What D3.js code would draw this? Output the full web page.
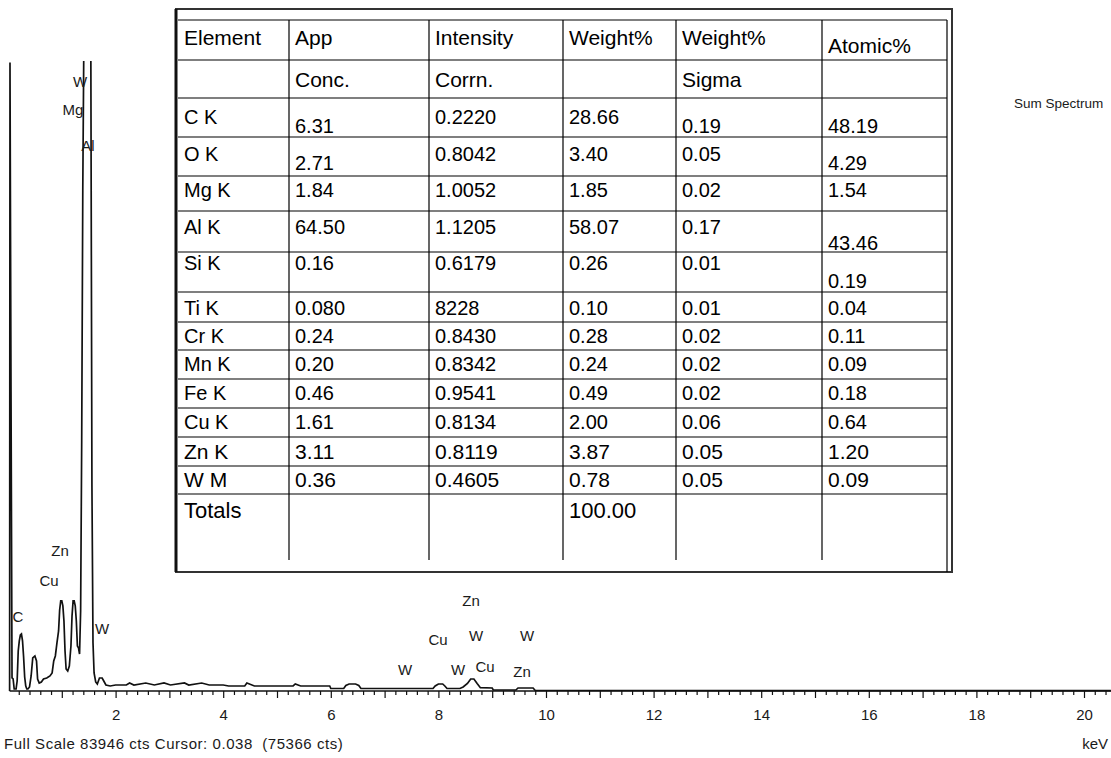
<!DOCTYPE html>
<html><head><meta charset="utf-8">
<script src="https://cdn.jsdelivr.net/npm/d3@7"></script>
<style>
html,body{margin:0;padding:0;background:#fff;}
svg{display:block;}
.small{font-family:"Liberation Sans",Arial,sans-serif;font-size:15px;fill:#1a1a1a;white-space:pre;}
.tbl{font-family:"Liberation Sans",Arial,sans-serif;fill:#000;}
</style></head><body>
<svg id="chart" width="1111" height="758"></svg>
<script>
// ---- EDS sum spectrum (energy in keV, counts) ----
const spectrumKeV = [0.030,0.037,0.056,0.075,0.095,0.115,0.150,0.170,0.190,0.210,0.230,0.250,0.270,0.290,0.310,0.330,0.350,0.370,0.400,0.430,0.460,0.500,0.530,0.550,0.580,0.620,0.660,0.720,0.780,0.820,0.850,0.880,0.910,0.940,0.960,0.980,1.000,1.020,1.040,1.060,1.080,1.110,1.140,1.170,1.190,1.210,1.230,1.250,1.270,1.290,1.310,1.330,1.350,1.370,1.390,1.410,1.440,1.480,1.510,1.540,1.560,1.580,1.600,1.630,1.660,1.700,1.750,1.780,1.820,1.900,2.000,2.200,2.260,2.340,2.560,2.720,2.900,3.020,3.280,3.360,3.600,3.740,4.000,4.100,4.400,4.440,4.580,5.000,5.300,5.340,5.440,5.980,6.000,6.240,6.280,6.340,6.460,6.520,6.560,7.000,7.900,7.940,8.000,8.080,8.120,8.160,8.400,8.460,8.540,8.600,8.660,8.720,8.780,9.000,9.020,9.440,9.480,9.760,9.800,11.00,20.50];
const spectrumCounts = [0,75366,35900,1560,1440,240,240,1200,4800,6000,6720,6840,6000,4080,1680,600,240,240,480,1800,3960,4200,3600,1440,960,1080,1440,1560,1800,2160,3600,4200,5760,7200,9720,10800,10800,10200,8400,4800,2640,2400,3000,5400,9000,10800,10800,10200,8400,5400,5160,4440,9600,30000,60000,78000,83946,83946,80000,76000,24700,5760,2160,1080,840,1560,1560,1200,720,600,720,720,960,720,960,720,960,720,960,720,960,720,720,600,600,960,600,600,600,840,600,600,300,300,660,840,840,660,300,300,300,600,840,840,600,300,300,480,900,1440,1440,900,400,360,120,120,360,360,60,60,40];

// ---- peak identification labels (line energy in keV, label height in counts) ----
const peakLabels = ["W","Mg","Al","Zn","Cu","C","W","Zn","Cu","W","W","W","W","Cu","Zn"];
const peakKeV    = [1.338,1.208,1.487,0.967,0.762,0.186,1.747,8.606,7.993,8.699,9.647,7.379,8.364,8.866,9.554];
const peakHeight = [72490,69134,64817,16249,12532,8215,6895,10253,5576,6056,6056,1859,1859,2219,1619];

// ---- axis ----
const keVTicks = d3.range(1, 21);
const fullScaleText = "Full Scale 83946 cts Cursor: 0.038  (75366 cts)";
const unitText = "keV";
const spectrumTitle = "Sum Spectrum";

// ---- quantification table ----
const headerRow1 = ["Element","App","Intensity","Weight%","Weight%","Atomic%"];
const headerRow2 = ["","Conc.","Corrn.","","Sigma",""];
const elements       = ["C K","O K","Mg K","Al K","Si K","Ti K","Cr K","Mn K","Fe K","Cu K","Zn K","W M"];
const appConc        = ["6.31","2.71","1.84","64.50","0.16","0.080","0.24","0.20","0.46","1.61","3.11","0.36"];
const intensityCorrn = ["0.2220","0.8042","1.0052","1.1205","0.6179","8228","0.8430","0.8342","0.9541","0.8134","0.8119","0.4605"];
const weightPct      = ["28.66","3.40","1.85","58.07","0.26","0.10","0.28","0.24","0.49","2.00","3.87","0.78"];
const weightSigma    = ["0.19","0.05","0.02","0.17","0.01","0.01","0.02","0.02","0.02","0.06","0.05","0.05"];
const atomicPct      = ["48.19","4.29","1.54","43.46","0.19","0.04","0.11","0.09","0.18","0.64","1.20","0.09"];
const totalsRow      = ["Totals","","","100.00","",""];

const svg = d3.select("#chart");

// scales
const x = d3.scaleLinear().domain([0, 20]).range([8, 1084]);
const y = d3.scaleLinear().domain([0, 83946]).range([691, -9]);

// clip for the spectrum window
svg.append("defs").append("clipPath").attr("id","plotClip")
  .append("rect").attr("x",0).attr("y",61).attr("width",1111).attr("height",632);

// spectrum trace
const pts = spectrumKeV.map((k,i)=>[k, spectrumCounts[i]]);
const line = d3.line().x(d=>x(d[0])).y(d=>y(d[1])).curve(d3.curveLinear);
svg.append("path").datum(pts)
  .attr("clip-path","url(#plotClip)")
  .attr("d", line)
  .attr("fill","none").attr("stroke","#111").attr("stroke-width",1.7)
  .attr("stroke-linejoin","miter");

// energy axis
const axisG = svg.append("g").attr("transform","translate(0,691)");
const minorVals = d3.range(1, 103).map(i=>i*0.2).filter(v=>Math.abs(v-Math.round(v))>1e-6);
axisG.append("g").call(d3.axisBottom(x).tickValues(minorVals).tickSize(4).tickFormat(""))
  .call(g=>g.select(".domain").remove());
axisG.append("g").call(d3.axisBottom(x).tickValues(keVTicks).tickSize(7).tickPadding(11)
    .tickFormat(d=> d%2===0 ? d : ""))
  .call(g=>g.select(".domain").remove())
  .call(g=>g.selectAll("text").attr("class","small").attr("font-family",null).attr("font-size",null).attr("fill",null));
axisG.selectAll("line").attr("stroke","#111").attr("stroke-width",1.2);
axisG.append("line").attr("x1",x(0.03)).attr("x2",1111).attr("y1",0).attr("y2",0)
  .attr("stroke","#111").attr("stroke-width",1.7);

svg.append("text").attr("class","small").attr("x",4).attr("y",749)
  .style("letter-spacing","0.55px").text(fullScaleText);
svg.append("text").attr("class","small").attr("x",1108).attr("y",749).attr("text-anchor","end").text(unitText);
svg.append("text").attr("class","small").attr("x",1014).attr("y",108).style("font-size","13.5px").text(spectrumTitle);

// peak labels
svg.append("g").selectAll("text").data(peakLabels).join("text")
  .attr("class","small")
  .attr("x",(d,i)=>x(peakKeV[i])).attr("y",(d,i)=>y(peakHeight[i]))
  .attr("text-anchor","middle").text(d=>d);

// ---- table ----
const colX = [178, 289, 429, 563, 676, 822];
const tableRight = 947;
const rowLines = [20, 60, 98, 137, 176, 211, 252, 292, 322, 350, 379, 408, 437, 466, 494];
const gridBottom = 560;

const rows = [headerRow1, headerRow2]
  .concat(elements.map((e,i)=>[e, appConc[i], intensityCorrn[i], weightPct[i], weightSigma[i], atomicPct[i]]))
  .concat([totalsRow]);
// baseline of each row and font size
const rowBase = [45, 87, 124, 161, 197, 234, 270, 315, 343, 371, 400, 429, 459, 487, 518];
const rowSize = [21, 21, 20, 20, 20, 20, 20, 20, 20, 20, 20, 20, 21, 21, 22];
// cells set lower inside their row
const lowered = {"0,5":8, "2,1":9, "2,4":9, "2,5":9, "3,1":9, "3,5":9, "5,5":16, "6,5":18};

const tbl = svg.append("g");
tbl.append("rect").attr("x",176).attr("y",9).attr("width",776).attr("height",563)
  .attr("fill","#fff").attr("stroke","#333").attr("stroke-width",2);
tbl.append("line").attr("x1",176).attr("x2",176).attr("y1",9).attr("y2",572).attr("stroke","#111").attr("stroke-width",3);
tbl.selectAll("line.h").data(rowLines).join("line").attr("class","h")
  .attr("x1",colX[0]).attr("x2",tableRight).attr("y1",d=>d).attr("y2",d=>d)
  .attr("stroke","#000").attr("stroke-width",1.2);
tbl.selectAll("line.v").data(colX.slice(1).concat([tableRight])).join("line").attr("class","v")
  .attr("x1",d=>d).attr("x2",d=>d).attr("y1",rowLines[0]).attr("y2",d=>d===tableRight?572:gridBottom)
  .attr("stroke","#000").attr("stroke-width",1.2);

rows.forEach((r,ri)=>{
  tbl.append("g").selectAll("text").data(r).join("text")
    .attr("class","tbl")
    .attr("x",(d,ci)=>colX[ci]+6)
    .attr("y",(d,ci)=>rowBase[ri] + (lowered[ri+","+ci]||0))
    .attr("font-size",rowSize[ri])
    .text(d=>d);
});
</script></body></html>
